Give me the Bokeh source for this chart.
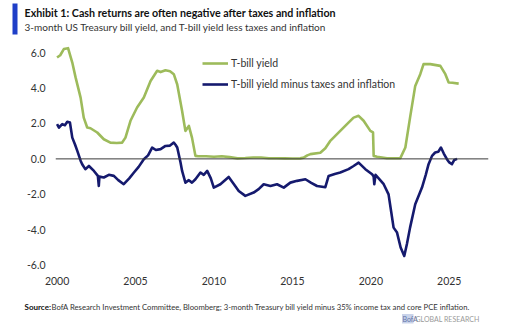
from bokeh.plotting import figure
from bokeh.layouts import column
from bokeh.models import (Span, FixedTicker, PrintfTickFormatter, Legend, LegendItem, Range1d)
from bokeh.core.properties import value
from bokeh.embed import file_html
from bokeh.resources import INLINE

# ---- data ----
tbill_x = [2000.0, 2000.2, 2000.43, 2000.7, 2000.97, 2001.18, 2001.5, 2001.7, 2001.92, 2002.13,
           2002.56, 2002.98, 2003.4, 2003.8, 2004.15, 2004.36, 2004.68, 2005.1, 2005.53, 2005.96,
           2006.38, 2006.6, 2006.91, 2007.2, 2007.44, 2007.66, 2007.97, 2008.18, 2008.4, 2008.6,
           2008.82, 2009.0, 2009.5, 2010.0, 2010.5, 2011.0, 2011.5, 2012.0, 2012.5, 2013.0,
           2013.5, 2014.0, 2014.5, 2015.0, 2015.5, 2015.72, 2015.95, 2016.15, 2016.78, 2017.1,
           2017.4, 2018.05, 2018.48, 2018.9, 2019.22, 2019.54, 2019.97, 2020.14, 2020.18, 2020.4,
           2021.03, 2021.88, 2022.2, 2022.5, 2022.83, 2023.15, 2023.36, 2023.79, 2024.43, 2024.75,
           2024.96, 2025.2, 2025.6]
tbill_y = [5.72, 5.85, 6.2, 6.25, 5.44, 4.6, 3.46, 2.33, 1.77, 1.73,
           1.49, 1.11, 0.92, 0.9, 0.92, 1.2, 2.15, 2.9, 3.46, 4.4,
           4.97, 4.9, 5.0, 4.95, 4.78, 4.2, 2.7, 1.58, 1.86, 1.2,
           0.17, 0.15, 0.15, 0.12, 0.15, 0.1, 0.03, 0.05, 0.08, 0.08,
           0.04, 0.04, 0.03, 0.02, 0.03, 0.07, 0.2, 0.27, 0.35, 0.6,
           1.0, 1.58, 1.96, 2.33, 2.43, 2.15, 1.58, 1.49, 0.17, 0.12,
           0.04, 0.04, 0.64, 2.33, 4.12, 4.78, 5.35, 5.35, 5.25, 4.78,
           4.31, 4.3, 4.25]

real_x = [2000.0, 2000.12, 2000.33, 2000.5, 2000.65, 2000.82, 2000.97, 2001.15, 2001.29, 2001.5,
          2001.6, 2001.8, 2002.03, 2002.35, 2002.6, 2002.66, 2002.7, 2002.98, 2003.3, 2003.62,
          2003.9, 2004.25, 2004.6, 2004.9, 2005.2, 2005.53, 2005.8, 2006.06, 2006.3, 2006.6,
          2006.91, 2007.2, 2007.44, 2007.55, 2007.66, 2007.87, 2007.97, 2008.18, 2008.4, 2008.6,
          2008.82, 2009.14, 2009.35, 2009.57, 2009.8, 2009.99, 2010.41, 2010.94, 2011.25, 2011.58,
          2012.0, 2012.53, 2012.85, 2013.17, 2013.6, 2014.02, 2014.45, 2014.87, 2015.3, 2015.83,
          2016.2, 2016.57, 2017.1, 2017.31, 2017.7, 2018.05, 2018.58, 2018.9, 2019.22, 2019.65,
          2020.08, 2020.18, 2020.22, 2020.3, 2020.5, 2020.82, 2021.13, 2021.3, 2021.45, 2021.67,
          2021.9, 2022.13, 2022.3, 2022.5, 2022.83, 2023.26, 2023.5, 2023.68, 2023.9, 2024.1,
          2024.3, 2024.47, 2024.65, 2024.85, 2025.0, 2025.17, 2025.32, 2025.5]
real_y = [1.96, 1.77, 1.96, 1.9, 2.09, 2.05, 1.2, 0.8, 0.45, -0.1,
          -0.3, -0.58, -0.4, -0.68, -0.96, -1.53, -1.0, -1.05, -0.9, -0.96,
          -1.2, -1.43, -1.1, -0.77, -0.45, -0.02, 0.2, 0.64, 0.5, 0.55,
          0.73, 0.75, 0.92, 0.8, 0.64, -0.2, -0.68, -1.34, -1.2, -1.34,
          -1.15, -0.77, -0.9, -0.68, -1.1, -1.62, -1.43, -1.02, -1.4, -1.81,
          -2.09, -1.9, -1.71, -1.43, -1.53, -1.43, -1.62, -1.34, -1.24, -1.15,
          -1.35, -1.53, -1.6, -0.96, -0.85, -0.77, -0.58, -0.4, -0.21, -0.58,
          -0.87, -1.0, -1.43, -0.9, -1.1, -1.43, -2.0, -3.0, -3.88, -4.16,
          -5.0, -5.48, -4.8, -3.88, -2.56, -1.62, -0.9, -0.3, 0.17, 0.36,
          0.4, 0.64, 0.3, -0.02, -0.2, -0.3, -0.06, 0.0]

x_ticks = [2000, 2005, 2010, 2015, 2020, 2025]
y_ticks = [-6, -4, -2, 0, 2, 4, 6]
series_names = ["T-bill yield", "T-bill yield minus taxes and inflation"]

title_text = "Exhibit 1: Cash returns are often negative after taxes and inflation"
subtitle_text = "3-month US Treasury bill yield, and T-bill yield less taxes and inflation"
source_bold = "Source:"
source_text = ("BofA Research Investment Committee, Bloomberg; 3-month Treasury bill yield minus "
               "35% income tax and core PCE inflation.")
brand_a = "BofA"
brand_b = "GLOBAL RESEARCH"

FONT = "Lato"
GREEN = "#9dbb5b"
NAVY = "#151a6e"
TXT = "#333333"
W = 511
H_HEAD, H_MAIN, H_FOOT = 40, 255, 36


def blank(h):
    f = figure(width=W, height=h, output_backend="svg", toolbar_location=None,
               x_range=Range1d(0, W), y_range=Range1d(h, 0),
               x_axis_type=None, y_axis_type=None, min_border=0, frame_align=False)
    f.outline_line_color = None
    f.xgrid.visible = False
    f.ygrid.visible = False
    f.border_fill_color = "white"
    return f


def txt(f, x, y, s, size, color=TXT, style="normal"):
    f.text(x=[x], y=[y], text=[s], text_font=value(FONT), text_font_size=size,
           text_color=color, text_font_style=style, text_baseline="middle", text_align="left")


# ---- header ----
head = blank(H_HEAD)
head.quad(left=[12], right=[17], top=[3], bottom=[34], fill_color="#1f3fc8", line_color=None)
txt(head, 24, 12, title_text, "10.7px", color="#111111", style="bold")
txt(head, 24, 26, subtitle_text, "10px")

# ---- main chart ----
FT, FB = 5, 25
p = figure(width=W, height=H_MAIN, output_backend="svg", toolbar_location=None,
           x_range=Range1d(1999.9, 2027.5), y_range=Range1d(-6.3, 6.4),
           min_border_left=55, min_border_right=23, min_border_top=FT, min_border_bottom=FB,
           frame_align=False)
p.outline_line_color = None
p.border_fill_color = "white"
p.xgrid.visible = False
p.ygrid.visible = False

for ax in (p.xaxis[0], p.yaxis[0]):
    ax.axis_line_color = None
    ax.major_tick_line_color = None
    ax.minor_tick_line_color = None
    ax.major_tick_out = 0
    ax.major_tick_in = 0
    ax.minor_tick_out = 0
    ax.major_label_text_font = FONT
    ax.major_label_text_font_size = "10.5px"
    ax.major_label_text_color = TXT

p.xaxis[0].ticker = FixedTicker(ticks=x_ticks)
p.xaxis[0].major_label_standoff = 6
p.yaxis[0].ticker = FixedTicker(ticks=y_ticks)
p.yaxis[0].formatter = PrintfTickFormatter(format="%.1f")
p.yaxis[0].major_label_standoff = 10

p.add_layout(Span(location=0, dimension="width", line_color="#3a3a3a", line_width=1))

r1 = p.line(tbill_x, tbill_y, line_color=GREEN, line_width=2.6, line_join="round")
r2 = p.line(real_x, real_y, line_color=NAVY, line_width=2.6, line_join="round")

frame_h = H_MAIN - FT - FB
legend = Legend(items=[LegendItem(label=series_names[0], renderers=[r1]),
                       LegendItem(label=series_names[1], renderers=[r2])],
                location=(147, frame_h - 8 - 41), padding=0, margin=0, spacing=1,
                glyph_width=26, glyph_height=20, label_height=20, label_standoff=3,
                border_line_color=None, background_fill_alpha=0,
                label_text_font=FONT, label_text_font_size="10.5px", label_text_color=TXT)
p.add_layout(legend)

# ---- footer ----
foot = blank(H_FOOT)
txt(foot, 24, 11, source_bold, "8px", color="#111111", style="bold")
txt(foot, 51, 11, source_text, "7.7px")
foot.quad(left=[401.5], right=[413], top=[18.5], bottom=[28], fill_color="#c9d3ea", line_color=None)
txt(foot, 402, 23.5, brand_a, "7px", color="#5f74a8")
txt(foot, 415, 23.5, brand_b, "7px", color="#9a9a9a")

layout = column(head, p, foot, spacing=0)
open("out.html", "w").write(file_html(layout, INLINE))
